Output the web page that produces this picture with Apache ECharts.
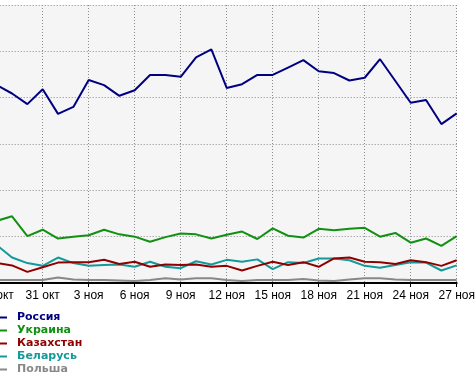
<!DOCTYPE html>
<html><head><meta charset="utf-8">
<script src="https://cdn.jsdelivr.net/npm/echarts@6/dist/echarts.min.js"></script>
<style>html,body{margin:0;padding:0;background:#fff}#c{width:476px;height:384px}</style>
</head><body><div id="c"></div>
<script>
var categories = ['28 окт','29 окт','30 окт','31 окт','1 ноя','2 ноя','3 ноя','4 ноя','5 ноя','6 ноя','7 ноя','8 ноя','9 ноя','10 ноя','11 ноя','12 ноя','13 ноя','14 ноя','15 ноя','16 ноя','17 ноя','18 ноя','19 ноя','20 ноя','21 ноя','22 ноя','23 ноя','24 ноя','25 ноя','26 ноя','27 ноя'];
var russia = [42.7,40.9,38.6,41.8,36.5,38.0,43.8,42.7,40.4,41.6,44.9,44.9,44.5,48.7,50.4,42.1,42.9,44.9,44.9,46.5,48.1,45.7,45.3,43.7,44.3,48.3,43.6,38.9,39.5,34.3,36.6];
var ukraine = [13.4,14.4,10.1,11.5,9.6,10.0,10.3,11.5,10.5,10.0,8.9,9.9,10.7,10.5,9.6,10.4,11.1,9.5,11.8,10.2,9.8,11.7,11.4,11.7,11.9,10.0,10.8,8.7,9.6,8.0,10.1];
var kazakhstan = [4.3,3.8,2.4,3.4,4.4,4.5,4.5,5.0,4.1,4.6,3.5,4.0,3.9,4.0,3.5,3.7,2.7,3.7,4.6,3.9,4.5,3.5,5.3,5.5,4.6,4.5,4.1,4.9,4.5,3.7,4.9];
var belarus = [8.2,5.5,4.3,3.7,5.5,4.3,3.7,3.9,4.0,3.5,4.6,3.5,3.2,4.7,4.0,5.0,4.6,5.1,3.0,4.5,4.3,5.3,5.3,4.9,3.7,3.3,3.9,4.5,4.4,2.7,3.8];
var poland = [0.65,0.65,0.65,0.65,1.2,0.75,0.65,0.65,0.55,0.45,0.65,1.0,0.75,1.0,1.0,0.65,0.45,0.65,0.65,0.65,0.85,0.55,0.45,0.75,1.0,1.0,0.75,0.65,0.65,0.65,0.65];
var seriesNames = ['Россия','Украина','Казахстан','Беларусь','Польша'];
var seriesColors = ['#000080','#129012','#900000','#129a9a','#888888'];
var seriesData = [russia, ukraine, kazakhstan, belarus, poland];

var chart = echarts.init(document.getElementById('c'), null, {renderer:'canvas'});
var grid = {left:-3.3, right:19.3, top:5, bottom:101, show:true, backgroundColor:'#f5f5f5', borderWidth:0, containLabel:false, outerBoundsMode:'none'};
var dotted = {color:'#8c8c8c', width:1, type:[1,2]};
chart.setOption({
  animation:false,
  backgroundColor:'#ffffff',
  grid: grid,
  legend: {
    orient:'vertical', left:0, top:311, padding:0, itemWidth:7, itemHeight:2, icon:'rect', itemGap:0,
    selectedMode:false,
    textStyle:{fontFamily:'DejaVu Sans', fontSize:11, fontWeight:'bold', lineHeight:13, padding:[0,0,0,5]},
    data: seriesNames.map(function(n,i){return {name:n, textStyle:{color:seriesColors[i]}};})
  },
  xAxis: {
    type:'category', data:categories, boundaryGap:false,
    axisLine:{show:true, lineStyle:{color:'#000', width:2}},
    axisTick:{show:true, interval:2, length:4, lineStyle:{color:'#000', width:1}},
    axisLabel:{interval:2, margin:7, color:'#000', fontFamily:'Liberation Sans', fontSize:12},
    splitLine:{show:true, interval:2, lineStyle:dotted}
  },
  yAxis: {
    type:'value', min:0, max:60, interval:10,
    axisLine:{show:false}, axisTick:{show:false}, axisLabel:{show:false},
    splitLine:{show:true, lineStyle:dotted}
  },
  series: seriesNames.map(function(n,i){
    return {name:n, type:'line', data:seriesData[i], symbol:'none', showSymbol:false,
      lineStyle:{color:seriesColors[i], width:2}, itemStyle:{color:seriesColors[i]}, z: 10-i};
  })
});
</script></body></html>
